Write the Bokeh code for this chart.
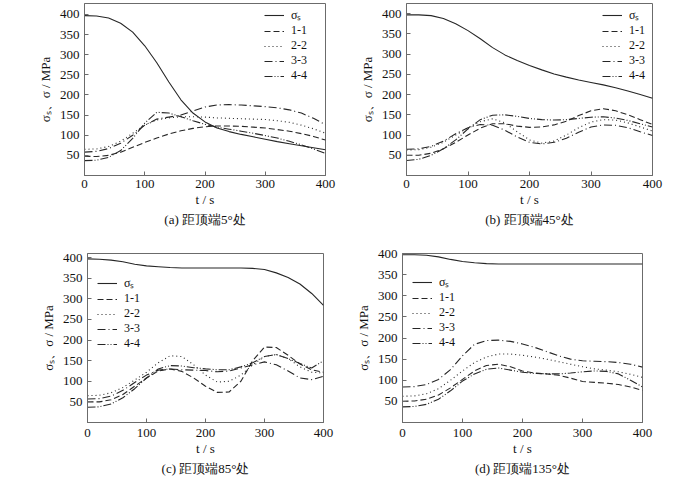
from bokeh.plotting import figure
from bokeh.layouts import column, row
from bokeh.models import Range1d, FixedTicker, Legend, LegendItem, Title
from bokeh.embed import file_html
from bokeh.resources import INLINE

# ---------------- data ----------------
t = [0, 20, 40, 60, 80, 100, 120, 140, 160, 180, 200, 220, 240, 260, 280, 300, 320, 340, 360, 380, 400]
series_names = ["σₛ", "1-1", "2-2", "3-3", "4-4"]

a_s = [397, 396, 391, 378, 356, 322, 280, 232, 188, 155, 133, 118, 109, 102, 96, 90, 84, 79, 74, 69, 64]
a_11 = [48, 47, 50, 58, 70, 82, 93, 103, 111, 117, 121, 123, 123, 122, 120, 118, 114, 110, 104, 97, 88]
a_22 = [65, 66, 72, 85, 105, 125, 138, 143, 146, 146, 145, 143, 142, 141, 140, 139, 136, 132, 125, 116, 105]
a_33 = [58, 60, 67, 80, 100, 125, 140, 145, 150, 160, 170, 175, 176, 175, 173, 171, 168, 163, 155, 142, 126]
a_44 = [37, 38, 45, 62, 92, 130, 157, 155, 146, 136, 127, 120, 115, 110, 105, 99, 93, 85, 76, 66, 55]

b_s = [397, 397, 395, 388, 375, 358, 338, 316, 298, 284, 272, 261, 251, 243, 236, 230, 224, 217, 209, 200, 191]
b_11 = [50, 50, 55, 66, 82, 100, 117, 128, 128, 122, 119, 120, 125, 134, 148, 160, 165, 160, 150, 138, 126]
b_22 = [63, 64, 70, 82, 100, 118, 133, 140, 130, 108, 88, 80, 85, 100, 118, 132, 138, 137, 130, 120, 110]
b_33 = [65, 66, 72, 85, 103, 118, 126, 124, 112, 95, 82, 78, 82, 92, 107, 120, 125, 124, 118, 108, 99]
b_44 = [37, 40, 50, 66, 88, 115, 138, 149, 150, 146, 141, 138, 137, 138, 141, 144, 145, 142, 136, 128, 120]

c_s = [397, 396, 394, 390, 384, 380, 378, 376, 375, 375, 375, 375, 375, 375, 374, 371, 363, 352, 336, 313, 284]
c_11 = [50, 50, 55, 68, 88, 108, 125, 130, 124, 108, 88, 73, 74, 100, 150, 183, 182, 163, 142, 128, 122]
c_22 = [65, 66, 72, 85, 103, 122, 145, 162, 160, 140, 115, 98, 100, 115, 140, 160, 165, 155, 135, 122, 120]
c_33 = [57, 58, 64, 78, 97, 115, 127, 130, 128, 127, 126, 123, 125, 132, 140, 147, 140, 125, 108, 104, 112]
c_44 = [37, 38, 45, 60, 82, 108, 130, 138, 137, 133, 130, 128, 128, 135, 145, 160, 165, 155, 143, 132, 150]

d_s = [397, 397, 396, 392, 386, 381, 378, 376, 375, 375, 375, 375, 375, 375, 375, 375, 375, 375, 375, 375, 375]
d_11 = [50, 51, 55, 65, 82, 102, 122, 135, 138, 132, 122, 117, 115, 112, 105, 97, 95, 93, 90, 84, 76]
d_22 = [62, 63, 68, 80, 100, 122, 142, 155, 162, 162, 159, 155, 150, 144, 138, 132, 127, 124, 120, 114, 107]
d_33 = [84, 85, 90, 102, 125, 158, 185, 194, 195, 192, 186, 178, 168, 158, 150, 146, 145, 144, 142, 138, 131]
d_44 = [37, 38, 43, 55, 75, 98, 115, 126, 129, 124, 119, 116, 115, 115, 117, 120, 122, 121, 115, 100, 84]

captions = ["(a) 距顶端5°处", "(b) 距顶端45°处", "(c) 距顶端85°处", "(d) 距顶端135°处"]
x_ticks = [0, 100, 200, 300, 400]
y_ticks = [50, 100, 150, 200, 250, 300, 350, 400]
y_max = [427, 425, 410, 400]

# ---------------- style ----------------
FONT = "Liberation Serif"
LINE = "#262626"
FRAME = "#6b6b6b"
TXT = "#111111"
dashes = ["solid", "6 3", "1 3", "8 3 1 3", "8 2 1 2 1 2"]


def panel(series, caption, ymax, w, h, bl, br, bt, bb, legend_loc, xstand):
    p = figure(width=w, height=h, output_backend="svg", toolbar_location=None,
               x_range=Range1d(0, 400), y_range=Range1d(0, ymax),
               min_border_left=bl, min_border_right=br, min_border_top=bt, min_border_bottom=bb)
    p.background_fill_color = "white"
    p.border_fill_color = "white"
    p.outline_line_color = FRAME
    p.outline_line_width = 1
    p.xgrid.visible = False
    p.ygrid.visible = False
    items = []
    for ys, name, dash in zip(series, series_names, dashes):
        r = p.line(t, ys, line_color=LINE, line_width=1.1, line_dash=dash)
        items.append(LegendItem(label=name, renderers=[r]))
    for ax in (p.xaxis[0], p.yaxis[0]):
        ax.axis_line_color = FRAME
        ax.major_tick_line_color = FRAME
        ax.major_tick_in = 4
        ax.major_tick_out = 0
        ax.minor_tick_line_color = None
        ax.major_label_text_font = FONT
        ax.major_label_text_font_size = "13px"
        ax.major_label_text_color = TXT
        ax.axis_label_text_font = FONT
        ax.axis_label_text_font_size = "13px"
        ax.axis_label_text_font_style = "normal"
        ax.axis_label_text_color = TXT
    p.xaxis[0].ticker = FixedTicker(ticks=x_ticks)
    p.yaxis[0].ticker = FixedTicker(ticks=y_ticks)
    p.xaxis[0].major_label_standoff = xstand
    p.yaxis[0].major_label_standoff = 5
    p.xaxis[0].axis_label = "t / s"
    p.yaxis[0].axis_label = "σₛ、σ / MPa"
    p.xaxis[0].axis_label_standoff = 1
    p.yaxis[0].axis_label_standoff = 4
    leg = Legend(items=items, location=legend_loc, border_line_color=None,
                 background_fill_alpha=0, label_text_font=FONT, label_text_font_size="12px",
                 label_text_color=TXT,
                 glyph_width=20, glyph_height=12, label_height=12, spacing=-1, padding=3,
                 margin=0, label_standoff=7)
    p.add_layout(leg)
    p.add_layout(Title(text=caption, align="center", text_font=FONT, text_font_size="13px",
                       text_font_style="normal", text_color=TXT, standoff=0, offset=0), "below")
    return p


pa = panel([a_s, a_11, a_22, a_33, a_44], captions[0], y_max[0], 350, 240, 84, 25, 3, 64, (180, 92), 4)
pb = panel([b_s, b_11, b_22, b_33, b_44], captions[1], y_max[1], 350, 240, 56, 48, 3, 65, (196, 92), 4)
pc = panel([c_s, c_11, c_22, c_33, c_44], captions[2], y_max[2], 350, 237, 87, 27, 13, 54, (10, 71), 6)
pd = panel([d_s, d_11, d_22, d_33, d_44], captions[3], y_max[3], 350, 237, 52, 58, 12, 55, (10, 72), 6)

layout = column(row(pa, pb), row(pc, pd))
open("out.html", "w").write(file_html(layout, INLINE))
